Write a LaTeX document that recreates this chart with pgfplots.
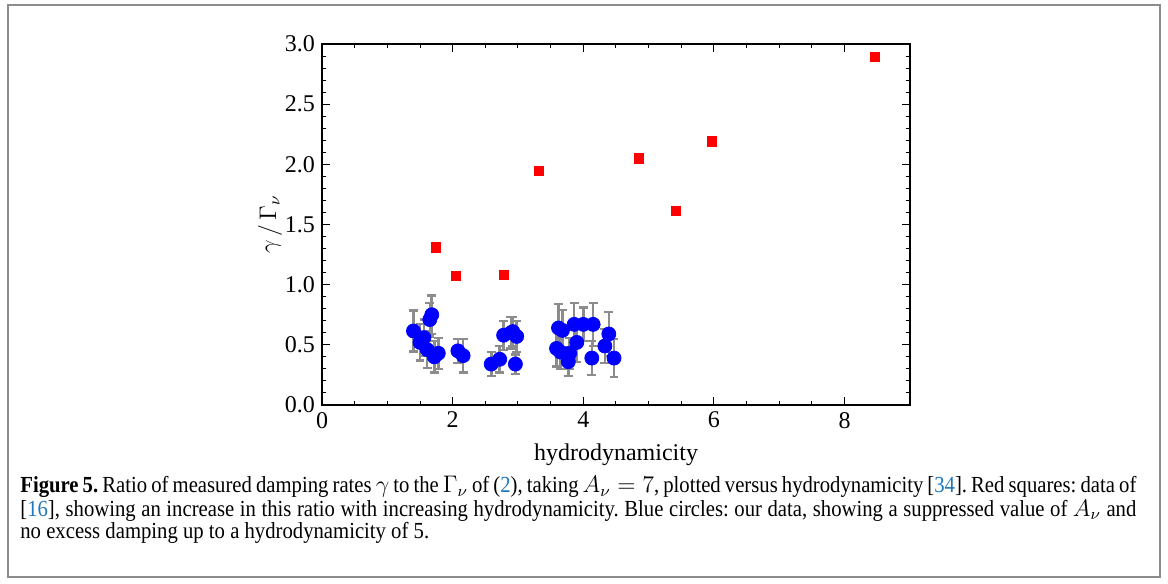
\documentclass[border=0pt]{standalone}
\usepackage{pgfplots}
\pgfplotsset{compat=1.18}
\usepackage{fontspec}
\setmainfont{Liberation Serif}
\newfontfamily\capfont[FakeStretch=0.9]{Liberation Serif}
\definecolor{linkblue}{RGB}{30,120,190}
\definecolor{errgray}{RGB}{140,140,140}
\begin{document}
\frenchspacing
\begin{tikzpicture}[x=0.5pt,y=0.5pt]
\path[fill=white] (0,0) rectangle (1168,584);
\draw[errgray, line width=0.6pt] (8,7) rectangle (1160,579);
\begin{axis}[
  at={(161pt,89.5pt)}, anchor=south west,
  scale only axis, width=294pt, height=180.5pt,
  xmin=0, xmax=9, ymin=0, ymax=3,
  xtick={0,2,4,6,8}, minor x tick num=3,
  ytick={0,0.5,1,1.5,2,2.5,3}, minor y tick num=4,
  major tick length=4pt, minor tick length=2pt,
  tick style={black, line width=0.5pt},
  axis line style={line width=0.6pt},
  /pgf/number format/assume math mode=true,
  yticklabel style={/pgf/number format/fixed, /pgf/number format/fixed zerofill, /pgf/number format/precision=1},
  ticklabel style={font=\fontsize{12}{12}\selectfont},
  label style={font=\fontsize{12}{12}\selectfont},
  xlabel={hydrodynamicity},
  xlabel style={at={(axis description cs:0.5,-0.1524)}, anchor=base},
  ylabel={$\gamma\,/\,\Gamma_\nu$},
  ylabel style={at={(axis description cs:-0.0884,0.5)}, anchor=center, rotate=0},
  clip=false,
]
\addplot[only marks, mark=*, mark size=3.5pt, color=blue,
  mark options={fill=blue, draw=blue},
  error bars/.cd, y dir=both, y explicit,
  error bar style={errgray, line width=1.3pt},
  error mark options={errgray, line width=1.1pt, mark size=2.2pt, rotate=90}]
table[x=x, y=y, y error=e] {
x y e
1.40 0.615 0.17
1.68 0.75 0.16
1.65 0.71 0.14
1.56 0.56 0.15
1.50 0.52 0.15
1.61 0.46 0.15
1.72 0.40 0.13
1.78 0.43 0.13
2.08 0.45 0.10
2.16 0.41 0.14
2.59 0.34 0.10
2.72 0.38 0.11
2.78 0.58 0.12
2.89 0.60 0.13
2.92 0.61 0.12
2.98 0.57 0.13
2.96 0.34 0.08
3.62 0.64 0.20
3.68 0.62 0.17
3.59 0.47 0.15
3.65 0.44 0.14
3.77 0.36 0.12
3.79 0.43 0.13
3.86 0.67 0.18
3.90 0.52 0.16
4.00 0.67 0.14
4.15 0.67 0.18
4.13 0.39 0.14
4.33 0.49 0.14
4.39 0.59 0.18
4.47 0.39 0.16
};
\addplot[only marks, mark=square*, mark size=2.3pt, color=red,
  mark options={fill=red, draw=red}]
table {
1.74 1.31
2.05 1.07
2.78 1.08
3.32 1.945
4.85 2.05
5.42 1.61
5.97 2.19
8.46 2.89
};
\end{axis}
\begin{scope}[font=\capfont\fontsize{11.5}{11.5}\selectfont]
\node[anchor=base west, inner sep=0pt] at (20,91) {\makebox[558pt][s]{\textbf{Figure 5.} Ratio of measured damping rates $\gamma$ to the $\Gamma_\nu$ of ({\color{linkblue}2}), taking $A_\nu = 7$, plotted versus hydrodynamicity [{\color{linkblue}34}]. Red squares: data of}};
\node[anchor=base west, inner sep=0pt] at (20,68) {\makebox[558pt][s]{[{\color{linkblue}16}], showing an increase in this ratio with increasing hydrodynamicity. Blue circles: our data, showing a suppressed value of $A_\nu$ and}};
\node[anchor=base west, inner sep=0pt] at (20,46) {no excess damping up to a hydrodynamicity of 5.};
\end{scope}
\end{tikzpicture}
\end{document}
